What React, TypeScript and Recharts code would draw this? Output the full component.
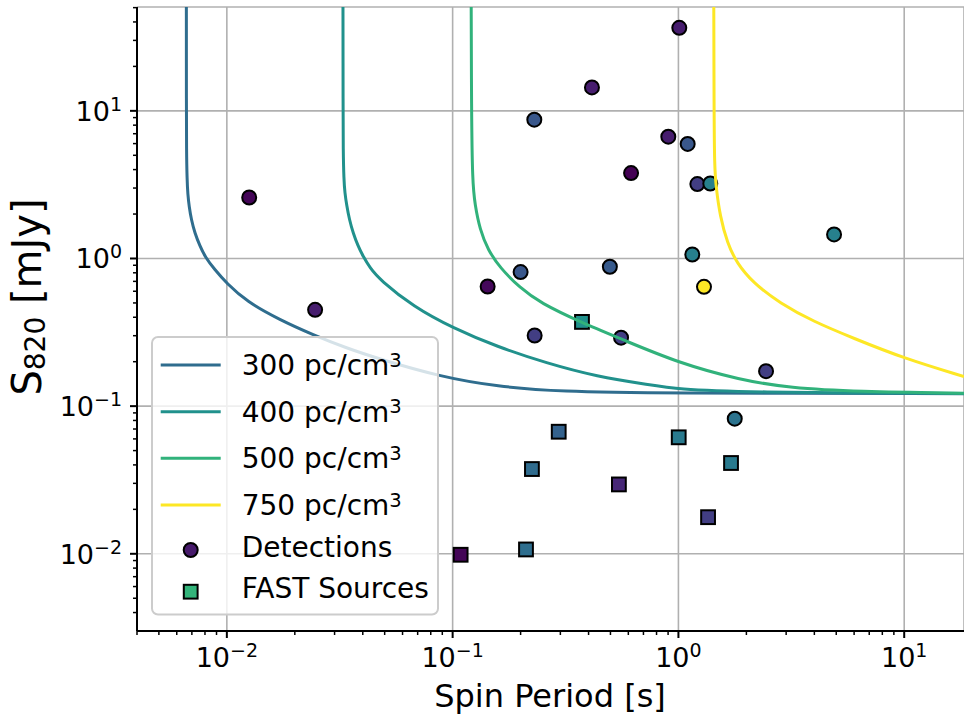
import React from 'react';
import { ComposedChart, Line, Scatter, XAxis, YAxis, CartesianGrid, Legend } from 'recharts';

// ---------------- data ----------------
// sensitivity curves: p = spin period [s], s = S820 [mJy]
const curveDM300 = [
  { p: 0.006617, s: 60 }, { p: 0.00662, s: 10 }, { p: 0.006627, s: 5.46 }, { p: 0.006663, s: 3.42 },
  { p: 0.006717, s: 2.703 }, { p: 0.006808, s: 2.251 }, { p: 0.006963, s: 1.829 }, { p: 0.007215, s: 1.486 },
  { p: 0.007591, s: 1.219 }, { p: 0.007991, s: 1.032 }, { p: 0.008845, s: 0.838 }, { p: 0.00997, s: 0.681 },
  { p: 0.01223, s: 0.511 }, { p: 0.01717, s: 0.384 }, { p: 0.02412, s: 0.304 }, { p: 0.0339, s: 0.247 },
  { p: 0.04762, s: 0.208 }, { p: 0.0879, s: 0.1585 }, { p: 0.1567, s: 0.1356 }, { p: 0.3083, s: 0.1254 },
  { p: 0.748, s: 0.1224 }, { p: 18.4, s: 0.1215 },
];
const curveDM400 = [
  { p: 0.03268, s: 60 }, { p: 0.03272, s: 10 }, { p: 0.03275, s: 5.46 }, { p: 0.03298, s: 3.42 },
  { p: 0.03332, s: 2.789 }, { p: 0.03391, s: 2.312 }, { p: 0.0349, s: 1.829 }, { p: 0.03627, s: 1.486 },
  { p: 0.03805, s: 1.219 }, { p: 0.04016, s: 1.032 }, { p: 0.04301, s: 0.865 }, { p: 0.04764, s: 0.717 },
  { p: 0.06689, s: 0.4726 }, { p: 0.1006, s: 0.3374 }, { p: 0.1567, s: 0.2532 }, { p: 0.2609, s: 0.1953 },
  { p: 0.4345, s: 0.1585 }, { p: 0.7484, s: 0.1392 }, { p: 1.0, s: 0.1302 }, { p: 1.875, s: 0.1242 },
  { p: 18.4, s: 0.1218 },
];
const curveDM500 = [
  { p: 0.1208, s: 60 }, { p: 0.1212, s: 10 }, { p: 0.1224, s: 3.26 }, { p: 0.1256, s: 2.31 },
  { p: 0.1321, s: 1.566 }, { p: 0.1433, s: 1.145 }, { p: 0.1621, s: 0.865 }, { p: 0.1987, s: 0.633 },
  { p: 0.2436, s: 0.501 }, { p: 0.374, s: 0.3665 }, { p: 0.5567, s: 0.2855 }, { p: 1.0, s: 0.1963 },
  { p: 1.875, s: 0.1505 }, { p: 3.122, s: 0.1328 }, { p: 6.184, s: 0.1254 }, { p: 18.4, s: 0.1224 },
];
const curveDM750 = [
  { p: 1.434, s: 60 }, { p: 1.438, s: 10 }, { p: 1.445, s: 4.19 }, { p: 1.467, s: 3.077 },
  { p: 1.529, s: 1.926 }, { p: 1.647, s: 1.272 }, { p: 1.813, s: 0.931 }, { p: 2.147, s: 0.681 },
  { p: 2.819, s: 0.498 }, { p: 3.96, s: 0.374 }, { p: 5.955, s: 0.2886 }, { p: 9.92, s: 0.2112 },
  { p: 18.4, s: 0.1585 },
];
const curveDMs = [300, 400, 500, 750];
const curveData = [curveDM300, curveDM400, curveDM500, curveDM750];

// detected pulsars (circles): p [s], s [mJy], dm [pc/cm^3] (dm estimated from colour)
const detections = [
  { p: 0.01256, s: 2.59, dm: 57 }, { p: 0.0246, s: 0.449, dm: 106 }, { p: 0.1429, s: 0.646, dm: 64 },
  { p: 0.2, s: 0.809, dm: 239 }, { p: 0.2308, s: 0.301, dm: 176 }, { p: 0.23, s: 8.71, dm: 239 },
  { p: 0.414, s: 14.4, dm: 106 }, { p: 0.497, s: 0.879, dm: 246 }, { p: 0.557, s: 0.291, dm: 176 },
  { p: 0.617, s: 3.79, dm: 50 }, { p: 0.902, s: 6.68, dm: 106 }, { p: 1.009, s: 36.5, dm: 106 },
  { p: 1.099, s: 5.97, dm: 239 }, { p: 1.213, s: 3.19, dm: 176 }, { p: 1.384, s: 3.22, dm: 351 },
  { p: 1.152, s: 1.064, dm: 351 }, { p: 1.298, s: 0.643, dm: 750 }, { p: 4.89, s: 1.455, dm: 351 },
  { p: 2.444, s: 0.1725, dm: 176 }, { p: 1.776, s: 0.0823, dm: 316 },
];
// FAST sources (squares)
const fastSources = [
  { p: 0.374, s: 0.372, dm: 400 }, { p: 0.295, s: 0.0671, dm: 267 }, { p: 0.2245, s: 0.0375, dm: 295 },
  { p: 0.545, s: 0.0295, dm: 127 }, { p: 1.003, s: 0.0615, dm: 337 }, { p: 1.71, s: 0.0412, dm: 337 },
  { p: 1.353, s: 0.0177, dm: 176 }, { p: 0.2113, s: 0.0107, dm: 302 }, { p: 0.1085, s: 0.00985, dm: 57 },
];

const xDomain = [0.004, 18.4];
const yDomain = [0.003, 50.5];
const xMajorTicks = [0.01, 0.1, 1, 10];
const yMajorTicks = [0.01, 0.1, 1, 10];
const xAllTicks = [
  0.004, 0.005, 0.006, 0.007, 0.008, 0.009, 0.01, 0.02, 0.03, 0.04, 0.05, 0.06, 0.07, 0.08, 0.09,
  0.1, 0.2, 0.3, 0.4, 0.5, 0.6, 0.7, 0.8, 0.9, 1, 2, 3, 4, 5, 6, 7, 8, 9, 10,
];
const yAllTicks = [
  0.004, 0.005, 0.006, 0.007, 0.008, 0.009, 0.01, 0.02, 0.03, 0.04, 0.05, 0.06, 0.07, 0.08, 0.09,
  0.1, 0.2, 0.3, 0.4, 0.5, 0.6, 0.7, 0.8, 0.9, 1, 2, 3, 4, 5, 6, 7, 8, 9, 10, 20, 30, 40, 50,
];
const xLabel = 'Spin Period [s]';
const yLabelMain = 'S';
const yLabelSub = '820';
const yLabelUnit = ' [mJy]';
const legendUnit = ' pc/cm';
const legendDetections = 'Detections';
const legendFast = 'FAST Sources';

// ---------------- styling helpers ----------------
const FONT = '"DejaVu Sans", sans-serif';
const PLOT_LEFT = 137;
const PLOT_BOTTOM = 631;
const TICK_FS = 27;
const TICK_SUP_FS = 19;

const VIRIDIS = ['#440154', '#482475', '#414487', '#355f8d', '#2a788e', '#21918c', '#22a884', '#44bf70', '#7ad151', '#bddf26', '#fde725'];
function hexToRgb(h: string) {
  return [parseInt(h.slice(1, 3), 16), parseInt(h.slice(3, 5), 16), parseInt(h.slice(5, 7), 16)];
}
function viridis(t: number) {
  const c = Math.max(0, Math.min(1, t)) * (VIRIDIS.length - 1);
  const i = Math.min(Math.floor(c), VIRIDIS.length - 2);
  const f = c - i;
  const a = hexToRgb(VIRIDIS[i]);
  const b = hexToRgb(VIRIDIS[i + 1]);
  const m = a.map((v, k) => Math.round(v + (b[k] - v) * f));
  return `rgb(${m[0]},${m[1]},${m[2]})`;
}
const DM_MIN = 50;
const DM_MAX = 750;
const dmColor = (dm: number) => viridis((dm - DM_MIN) / (DM_MAX - DM_MIN));

function isMajor(v: number) {
  const e = Math.round(Math.log10(v));
  return Math.abs(v / Math.pow(10, e) - 1) < 1e-6;
}
function expText(v: number) {
  const e = Math.round(Math.log10(v));
  return e < 0 ? '\u2212' + String(-e) : String(e);
}

function XTick(props: any) {
  const { x, payload } = props;
  const v = payload.value;
  const major = isMajor(v);
  return (
    <g>
      <line x1={x} x2={x} y1={PLOT_BOTTOM} y2={PLOT_BOTTOM + (major ? 7 : 4)} stroke="#000" strokeWidth={major ? 2 : 1.5} />
      {major && (
        <text x={x} y={667} textAnchor="middle" fontSize={TICK_FS} fontFamily={FONT} fill="#000">
          <tspan>10</tspan>
          <tspan dy={-10} fontSize={TICK_SUP_FS}>{expText(v)}</tspan>
        </text>
      )}
    </g>
  );
}

function YTick(props: any) {
  const { y, payload } = props;
  const v = payload.value;
  const major = isMajor(v);
  return (
    <g>
      <line x1={PLOT_LEFT - (major ? 7 : 4)} x2={PLOT_LEFT} y1={y} y2={y} stroke="#000" strokeWidth={major ? 2 : 1.5} />
      {major && (
        <text x={122} y={y + 10} textAnchor="end" fontSize={TICK_FS} fontFamily={FONT} fill="#000">
          <tspan>10</tspan>
          <tspan dy={-10} fontSize={TICK_SUP_FS}>{expText(v)}</tspan>
        </text>
      )}
    </g>
  );
}

const XLabel = () => (
  <text x={550} y={707} textAnchor="middle" fontSize={32} fontFamily={FONT} fill="#000">{xLabel}</text>
);
const YLabel = () => (
  <text transform="translate(41,297) rotate(-90)" textAnchor="middle" fontSize={40} fontFamily={FONT} fill="#000">
    <tspan>{yLabelMain}</tspan>
    <tspan dy={4} fontSize={28}>{yLabelSub}</tspan>
    <tspan dy={-4}>{yLabelUnit}</tspan>
  </text>
);

const CircleShape = (props: any) => (
  <circle cx={props.cx} cy={props.cy} r={7} fill={dmColor(props.payload.dm)} stroke="#000" strokeWidth={2} />
);
const SquareShape = (props: any) => (
  <rect x={props.cx - 6.9} y={props.cy - 6.9} width={13.8} height={13.8} fill={dmColor(props.payload.dm)} stroke="#000" strokeWidth={2} />
);

const LEGEND_ROW_Y = [29, 75.7, 122.3, 169];
const LEGEND_TEXT_Y = [39, 85.7, 132.3, 179];
const LegendBox = () => (
  <svg width={290} height={282} style={{ overflow: 'visible', display: 'block' }}>
    <rect x={1} y={1} width={286} height={277.5} rx={6} fill="#fff" fillOpacity={0.8} stroke="#cccccc" strokeWidth={2} />
    {curveDMs.map((dm, i) => (
      <g key={dm}>
        <line x1={9.7} x2={69.7} y1={LEGEND_ROW_Y[i]} y2={LEGEND_ROW_Y[i]} stroke={dmColor(dm)} strokeWidth={3} />
        <text x={90.7} y={LEGEND_TEXT_Y[i]} fontSize={28} fontFamily={FONT} fill="#000">
          <tspan>{String(dm) + legendUnit}</tspan>
          <tspan dy={-8.5} fontSize={19.6}>3</tspan>
        </text>
      </g>
    ))}
    <circle cx={39.7} cy={214} r={7} fill={viridis(0.07)} stroke="#000" strokeWidth={2} />
    <text x={90.7} y={221.3} fontSize={28} fontFamily={FONT} fill="#000">{legendDetections}</text>
    <rect x={39.7 - 6.9} y={255.7 - 6.9} width={13.8} height={13.8} fill={viridis(0.65)} stroke="#000" strokeWidth={2} />
    <text x={90.7} y={262.3} fontSize={28} fontFamily={FONT} fill="#000">{legendFast}</text>
  </svg>
);

export default function App() {
  return (
    <div style={{ position: 'absolute', left: 0, top: 0, width: 964, height: 715, background: '#fff' }}>
      <ComposedChart width={964} height={715} margin={{ top: 7, right: 0, bottom: 0, left: 0 }}>
        <XAxis xAxisId="grid" hide type="number" scale="log" dataKey="p" domain={xDomain} allowDataOverflow ticks={xMajorTicks} />
        <YAxis yAxisId="grid" hide type="number" scale="log" dataKey="s" domain={yDomain} allowDataOverflow ticks={yMajorTicks} />
        <CartesianGrid xAxisId="grid" yAxisId="grid" stroke="#b0b0b0" strokeWidth={1.6} />
        <XAxis
          type="number" scale="log" dataKey="p" domain={xDomain} allowDataOverflow ticks={xAllTicks} interval={0}
          height={84} tick={<XTick />} tickLine={false} axisLine={{ stroke: '#000', strokeWidth: 2 }}
          label={XLabel}
        />
        <XAxis
          xAxisId="top" orientation="top" type="number" scale="log" dataKey="p" domain={xDomain} allowDataOverflow
          height={0} tick={false} tickLine={false} axisLine={{ stroke: '#000', strokeWidth: 2 }}
        />
        <YAxis
          type="number" scale="log" dataKey="s" domain={yDomain} allowDataOverflow ticks={yAllTicks} interval={0}
          width={137} tick={<YTick />} tickLine={false} axisLine={{ stroke: '#000', strokeWidth: 2 }}
          label={YLabel}
        />
        <Scatter data={detections} dataKey="s" shape={CircleShape} isAnimationActive={false} />
        <Scatter data={fastSources} dataKey="s" shape={SquareShape} isAnimationActive={false} />
        {curveData.map((d, i) => (
          <Line
            key={curveDMs[i]} data={d} dataKey="s" type="basis" stroke={dmColor(curveDMs[i])} strokeWidth={3}
            dot={false} activeDot={false} isAnimationActive={false} zIndex={700}
          />
        ))}
        <Legend
          layout="vertical" align="center" verticalAlign="middle"
          wrapperStyle={{ left: 151, top: 336, width: 290, height: 282 }}
          content={() => <LegendBox />}
        />
      </ComposedChart>
    </div>
  );
}
